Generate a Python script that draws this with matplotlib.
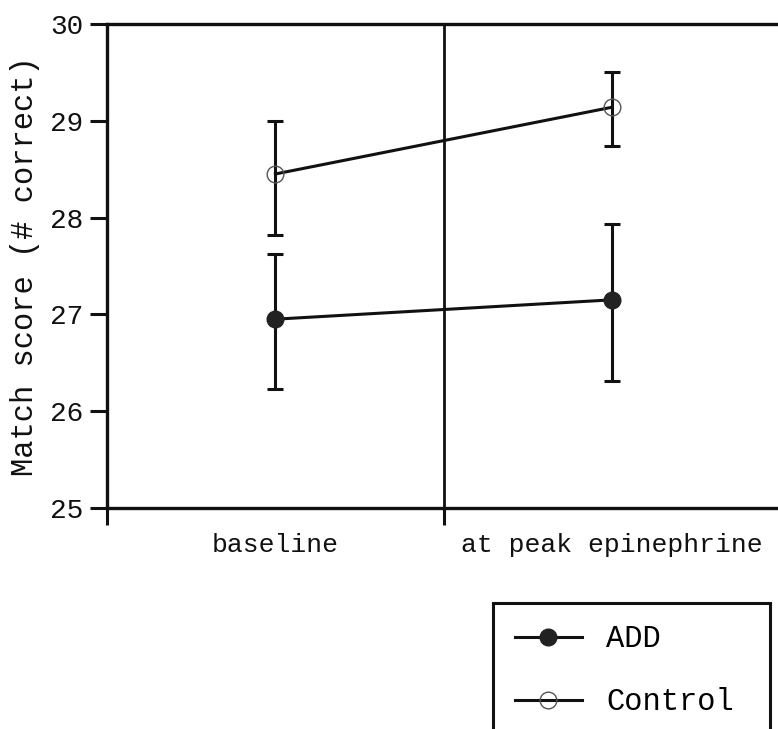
import matplotlib
matplotlib.use("Agg")
import matplotlib.pyplot as plt
import numpy as np

plt.rcParams['font.family'] = ['Liberation Mono', 'DejaVu Sans Mono']

categories = ["baseline", "at peak epinephrine"]
add_mean = [26.95, 27.15]
add_upper = [27.62, 27.93]
add_lower = [26.23, 26.31]
ctrl_mean = [28.45, 29.14]
ctrl_upper = [29.0, 29.5]
ctrl_lower = [27.82, 28.74]
yticks = [25, 26, 27, 28, 29, 30]

ink = "#111111"
fig = plt.figure(figsize=(7.78, 7.29), dpi=100)
ax = fig.add_axes([0.1375, 0.3032, 0.866, 0.664])

x = np.arange(len(categories))

def err(mean, lo, hi):
    return [np.array(mean) - np.array(lo), np.array(hi) - np.array(mean)]

ax.errorbar(x, ctrl_mean, yerr=err(ctrl_mean, ctrl_lower, ctrl_upper), fmt='none',
            ecolor=ink, elinewidth=2.2, capsize=5.5, capthick=2.2, zorder=2)
ax.errorbar(x, add_mean, yerr=err(add_mean, add_lower, add_upper), fmt='none',
            ecolor=ink, elinewidth=2.2, capsize=5.5, capthick=2.2, zorder=2)

ax.plot(x, add_mean, color=ink, lw=2.2, marker='o', markersize=12,
        markerfacecolor='#222222', markeredgecolor='#222222', label='ADD', zorder=3)
ax.plot(x, ctrl_mean, color=ink, lw=2.2, marker='o', markersize=12,
        markerfacecolor='none', markeredgecolor='#555555', markeredgewidth=1.0,
        label='Control', zorder=3)

ax.axvline(0.5, color=ink, lw=2.0, zorder=1)

ax.set_xlim(-0.5, 1.5)
ax.set_ylim(25, 30)
ax.set_yticks(yticks)
ax.set_yticklabels([str(v) for v in yticks])
ax.set_xticks(x)
ax.set_xticklabels(categories)
ax.set_xticks([-0.5, 0.5, 1.5], minor=True)

ax.tick_params(axis='y', which='major', length=12, width=2.2, direction='out',
               labelsize=20, pad=5, colors=ink)
ax.tick_params(axis='x', which='major', length=0, labelsize=19, pad=18, colors=ink)
ax.tick_params(axis='x', which='minor', length=12, width=2.2, direction='out', colors=ink)
ax.tick_params(axis='y', which='minor', length=0)

for s in ['left', 'bottom', 'top']:
    ax.spines[s].set_linewidth(2.4)
    ax.spines[s].set_color(ink)
ax.spines['right'].set_visible(False)

ax.set_ylabel("Match score (# correct)", fontsize=22, labelpad=7, color=ink)

leg_h = 0.2
leg = fig.legend(loc='upper left', bbox_to_anchor=(0.634, 0.173 - leg_h, 0.356, leg_h),
                 bbox_transform=fig.transFigure, mode='expand', fontsize=22, frameon=True,
                 fancybox=False, edgecolor=ink, framealpha=1,
                 handlelength=2.2, handletextpad=0.8, labelspacing=1.08,
                 borderpad=0.7, borderaxespad=0)
leg.get_frame().set_linewidth(2.2)

fig.savefig("out.png", dpi=100, facecolor='white')
